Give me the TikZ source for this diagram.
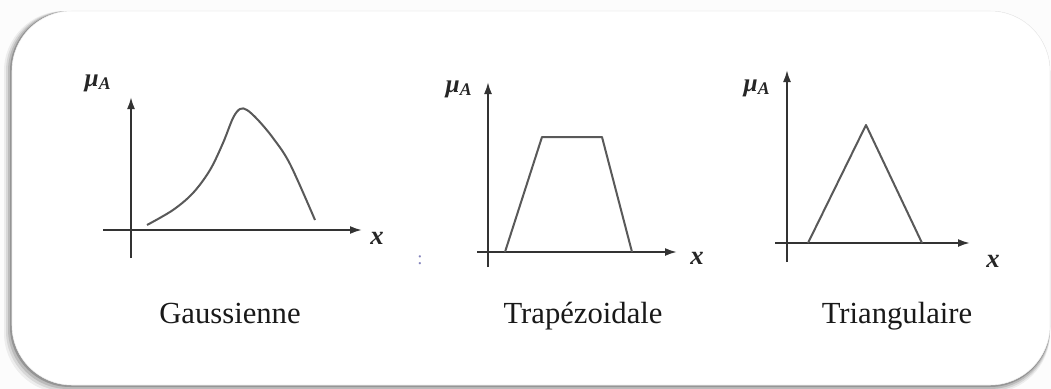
\documentclass[tikz,border=0pt]{standalone}
\usepackage{fontspec}
\setmainfont{Liberation Serif}
\usetikzlibrary{arrows.meta}
\begin{document}
\begin{tikzpicture}[x=0.75pt, y=-0.75pt,
    axis/.style={draw=black!80, line width=1.5pt, -{Latex[length=9pt,width=6pt]}},
    curve/.style={draw=black!65, line width=1.5pt, line join=round},
    mulabel/.style={font=\fontsize{19}{21}\selectfont\bfseries\itshape, text=black!85},
    xlabel/.style={font=\fontsize{20}{22}\selectfont\bfseries\itshape, text=black!85},
    caption/.style={font=\fontsize{23}{26}\selectfont, text=black!90, anchor=base}]
    \useasboundingbox (0,0) rectangle (1051,389);
    \fill[black!1] (0,0) rectangle (1051,389);

    % Frame
    \foreach \s/\o in {8/0.06, 6/0.09, 4/0.13, 2/0.2}
        \fill[black, opacity=\o, rounded corners=45pt] (12-\s,11) rectangle (1050,385+\s);
    \draw[black!6, fill=white, rounded corners=45pt] (12,11) rectangle (1050,385);

    % Gaussienne
    \draw[axis] (131,258) -- (131,97);
    \draw[axis] (103,230) -- (362,230);
    \draw[curve] plot[smooth, tension=0.55] coordinates {(147,225) (173,210) (193,193) (210,170) (223,143) (233,118) (240,109) (247,110) (258,120) (273,138) (290,164) (315,220)};
    \node[mulabel] (muG) at (98,83) {μ\textsubscript{A}};
    \node[xlabel] (xG) at (377,238) {x};
    \node[caption] (gauss) at (230,323) {Gaussienne};

    % Trapezoidale
    \node[text=blue!30!gray!75, font=\fontsize{14}{16}\selectfont] (colon) at (420,260) {:};
    \draw[axis] (488,267) -- (488,82);
    \draw[axis] (477,252) -- (677,252);
    \draw[curve] (505,252) -- (542,137) -- (602,137) -- (632,252);
    \node[mulabel] (muT) at (459,89) {μ\textsubscript{A}};
    \node[xlabel] (xT) at (697,258) {x};
    \node[caption] (trap) at (583,323) {Trapézoidale};

    % Triangulaire
    \draw[axis] (787,262) -- (787,70);
    \draw[axis] (775,243) -- (970,243);
    \draw[curve] (808,243) -- (866,125) -- (922,243);
    \node[mulabel] (muR) at (757,88) {μ\textsubscript{A}};
    \node[xlabel] (xR) at (993,261) {x};
    \node[caption] (tri) at (897,323) {Triangulaire};
\end{tikzpicture}
\end{document}
